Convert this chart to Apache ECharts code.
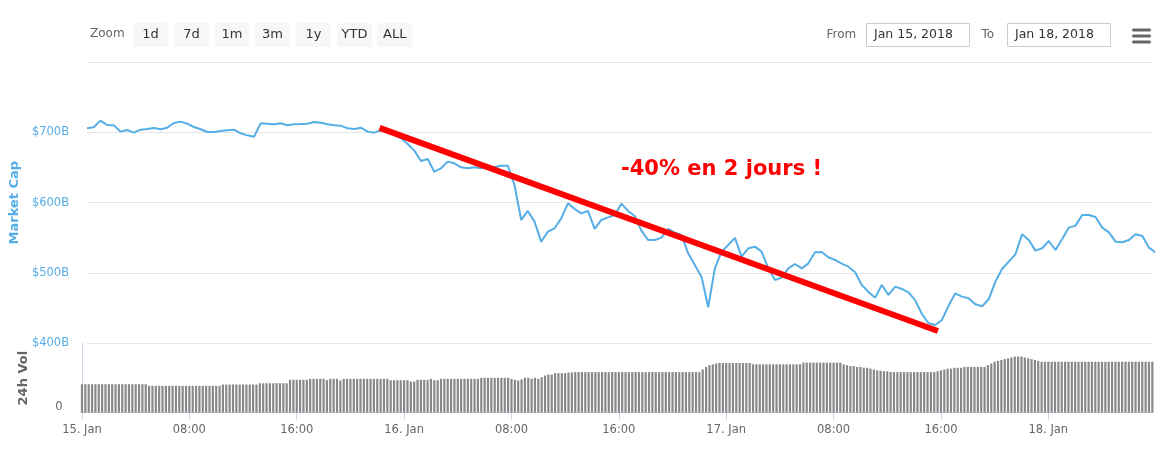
<!DOCTYPE html>
<html>
<head>
<meta charset="utf-8">
<script src="https://cdn.jsdelivr.net/npm/echarts@6/dist/echarts.min.js"></script>
<style>
html,body{margin:0;padding:0;background:#fff;}
#c{width:1175px;height:456px;}
</style>
</head>
<body>
<div id="c"></div>
<script>
// ---- data ----
// Market cap ($B), one value every 30 minutes from 15 Jan 2018 00:00
const mcapStepHours = 0.5;
const mcapValues = [
705.7,707.1,716.6,710.4,710,701,703.3,699.5,703.8,704.7,
706.2,704.3,706.6,713.3,715.2,712.3,707.6,704.3,700.5,700.5,
701.9,702.8,703.8,698.6,695.7,693.8,712.8,712.3,711.4,712.8,
710,711.4,711.8,712.3,714.7,713.7,711.4,710,709.5,705.7,
704.7,706.6,701,699.5,702.8,700,697,691.5,683.4,674,
659.2,662,644,648.8,658.3,655.9,650.2,648.8,650.2,648.8,
650.7,650.7,652.6,652.6,625.1,575.4,588.2,573,544.5,558.8,
563.5,577.7,599.1,591,584.8,588.2,562.6,575.4,579.1,582.5,
598.6,588.2,581.1,560.2,546.9,546.9,550.2,562.6,557.3,554,
528,511.4,494.8,451.2,506.6,530.3,539.8,550,523.2,535.1,
537.4,530.3,506.6,490,493.4,506.6,512.8,506.6,513.7,529.4,
529.9,522.3,518.5,513.3,509,501,483,473,464.9,483,
468.7,480.6,477.3,472.5,461.1,441.7,428.4,426.1,433.2,453.6,
471.1,466.4,464,455.5,452.6,462.6,487.7,505.7,516.1,526.5,
555,546.9,531.8,535.1,545.5,532.7,548.3,564.5,567.3,582.5,
582.5,579.6,564.5,557.8,544.5,543.6,546.9,555,552.6,536,
529
];
// 24h volume ($B), one bar every 15 minutes from 15 Jan 2018 00:00
const volStepHours = 0.25;
const volValues = [
33,33,33,33,33,33,33,33,33,33,33,33,33,33,33,33,33,33,33,33,
31.1,31.1,31.1,31.1,31.1,31.1,31.1,31.1,31.1,31.1,31.1,31.1,31.1,31.1,31.1,31.1,31.1,31.1,31.1,31.1,
31.1,31.1,32.6,32.6,32.6,32.6,32.6,32.6,32.6,32.6,32.6,32.6,32.6,34.1,34.1,34.1,34.1,34.1,34.1,34.1,
34.1,34.1,38.1,38.1,38.1,38.1,38.1,38.1,39.2,39.2,39.2,39.2,39.2,37.6,39.2,39.2,39.2,37.3,39.2,39.2,
39.2,39.2,39.2,39.2,39.2,39.2,39.2,39.2,39.2,39.2,39.2,39.2,37.6,37.6,37.6,37.6,37.6,37.6,36.1,36.1,
38.1,38.1,38.1,38.1,39.2,37.6,37.6,39.2,39.2,39.2,39.2,39.2,39.2,39.2,39.2,39.2,39.2,39.2,39.2,40.4,
40.4,40.4,40.4,40.4,40.4,40.4,40.4,40.4,39.2,38.1,37.3,38.5,40.4,40.4,39.2,40.4,39.2,41.1,43.1,44.2,
44.2,45.8,45.8,45.8,45.8,46.5,46.5,47,47,47,47,47,47,47,47,47,47,47,47,47,
47,47,47,47,47,47,47,47,47,47,47,47,47,47,47,47,47,47,47,47,
47,47,47,47,47,50,53,55,56,57,57.5,57.5,57.5,57.5,57.5,57.5,57.5,57.5,57.5,57.5,
56,56,56,56,56,56,56,56,56,56,56,56,56,56,56,58,58,58,58,58,
58,58,58,58,58,58,58,56,55,54,54,53,53,52,52,51,50,49,48.5,48,
48,47,47,47,47,47,47,47,47,47,47,47,47,47,47,48,49,50,51,51,
52,52,52,53,53,53,53,53,53,53,55,57,59,60,61,62,63,64,65,65,
65,64,63,62,61,60,59,59,59,59,59,59,59,59,59,59,59,59,59,59,
59,59,59,59,59,59,59,59,59,59,59,59,59,59,59,59,59,59,59,59
];
// x ticks (hours since 15 Jan 00:00) and their labels
const xTickHours = [0,8,16,24,32,40,48,56,64,72];
const xTickLabels = ['15. Jan','08:00','16:00','16. Jan','08:00','16:00','17. Jan','08:00','16:00','18. Jan'];
const xMaxHours = 79.8;
// market cap axis ticks
const capTicks = [400,500,600,700];
const capTickLabels = ['$400B','$500B','$600B','$700B'];
// annotation trend line endpoints [hours, $B]
const trendHours = [21.9, 63.7];
const trendValues = [706.3, 417.5];
const annotationText = '-40% en 2 jours !';
const zoomButtons = ['1d','7d','1m','3m','1y','YTD','ALL'];
const fromDate = 'Jan 15, 2018';
const toDate = 'Jan 18, 2018';

// ---- chart ----
const FONT = '"DejaVu Sans", sans-serif';
const BLUE = '#55aee6';
const chart = echarts.init(document.getElementById('c'), null, {renderer: 'canvas'});

const lineData = mcapValues.map((v, k) => [k * mcapStepHours, v]);
const volData = volValues.map((v, i) => [i * volStepHours, v]);
const trendData = trendHours.map((h, i) => [h, trendValues[i]]);

const graphics = [];
graphics.push({type: 'text', left: 90, top: 28, style: {text: 'Zoom', fill: '#666', font: '12px ' + FONT}});
const btnX = [133, 174, 214.5, 255, 296, 337, 377];
const btnW = [35, 35, 35, 35, 35, 35, 35.5];
zoomButtons.forEach((b, i) => {
  graphics.push({type: 'rect', shape: {x: btnX[i], y: 23, width: btnW[i], height: 24, r: 2}, style: {fill: '#f7f7f7'}});
  graphics.push({type: 'text', x: btnX[i] + btnW[i] / 2, y: 35, style: {text: b, fill: '#333', font: '13px ' + FONT, align: 'center', verticalAlign: 'middle'}});
});
graphics.push({type: 'text', x: 826.5, y: 34.5, style: {text: 'From', fill: '#666', font: '12px ' + FONT, verticalAlign: 'middle'}});
graphics.push({type: 'rect', shape: {x: 866.5, y: 23.5, width: 103, height: 23}, style: {fill: '#fff', stroke: '#cccccc', lineWidth: 1}});
graphics.push({type: 'text', x: 874, y: 35, style: {text: fromDate, fill: '#333', font: '12.5px ' + FONT, verticalAlign: 'middle'}});
graphics.push({type: 'text', x: 981.5, y: 34.5, style: {text: 'To', fill: '#666', font: '12px ' + FONT, verticalAlign: 'middle'}});
graphics.push({type: 'rect', shape: {x: 1007.5, y: 23.5, width: 103, height: 23}, style: {fill: '#fff', stroke: '#cccccc', lineWidth: 1}});
graphics.push({type: 'text', x: 1015, y: 35, style: {text: toDate, fill: '#333', font: '12.5px ' + FONT, verticalAlign: 'middle'}});
[28.5, 34.5, 40.5].forEach(y => {
  graphics.push({type: 'rect', shape: {x: 1132, y: y, width: 19, height: 3, r: 1.5}, style: {fill: '#666'}});
});
graphics.push({type: 'text', x: 621, y: 169.5, z: 100, style: {text: annotationText, fill: '#ff0000', font: 'bold 21px "DejaVu Sans", sans-serif', verticalAlign: 'middle'}});

chart.setOption({
  animation: false,
  backgroundColor: '#fff',
  grid: [
    {left: 82, right: 22, top: 62, height: 281.3},
    {left: 82, right: 22, top: 343.6, height: 69.1}
  ],
  xAxis: [
    {type: 'value', gridIndex: 0, min: 0, max: xMaxHours, show: false, splitLine: {show: false}},
    {type: 'value', gridIndex: 1, min: 0, max: xMaxHours,
      axisLine: {show: true, lineStyle: {color: '#ccd6eb', width: 1}},
      axisTick: {show: true, length: 7, customValues: xTickHours, lineStyle: {color: '#ccd6eb'}},
      axisLabel: {customValues: xTickHours, color: '#666', fontFamily: FONT, fontSize: 11.5, margin: 11,
        formatter: v => xTickLabels[xTickHours.indexOf(v)]},
      splitLine: {show: false}}
  ],
  yAxis: [
    {type: 'value', gridIndex: 0, min: 400, max: 800,
      axisLine: {show: false}, axisTick: {show: false},
      axisLabel: {customValues: capTicks, color: BLUE, fontFamily: FONT, fontSize: 11.5, margin: 18,
        formatter: v => capTickLabels[capTicks.indexOf(v)]},
      splitLine: {show: true, lineStyle: {color: '#e6e6e6', width: 1}},
      name: 'Market Cap', nameLocation: 'middle', nameGap: 63, nameRotate: 90,
      nameTextStyle: {color: BLUE, fontFamily: FONT, fontSize: 13, fontWeight: 'bold'}},
    {type: 'value', gridIndex: 1, min: 0, max: 80, offset: 4.5,
      axisLine: {show: true, lineStyle: {color: '#ccd6eb'}}, axisTick: {show: false},
      axisLabel: {customValues: [0], color: '#666', fontFamily: FONT, fontSize: 11.5, margin: 15, verticalAlign: 'bottom'},
      splitLine: {show: false},
      name: '24h Vol', nameLocation: 'middle', nameGap: 47, nameRotate: 90,
      nameTextStyle: {color: '#666', fontFamily: FONT, fontSize: 13, fontWeight: 'bold'}}
  ],
  series: [
    {type: 'line', xAxisIndex: 0, yAxisIndex: 0, data: lineData, showSymbol: false,
      lineStyle: {color: BLUE, width: 2}, z: 3},
    {type: 'bar', xAxisIndex: 1, yAxisIndex: 1, data: volData, barWidth: 2.2,
      itemStyle: {color: '#888'}, z: 2},
    {type: 'line', xAxisIndex: 0, yAxisIndex: 0, data: trendData, showSymbol: false,
      lineStyle: {color: '#ff0000', width: 6}, z: 5}
  ],
  graphic: graphics
});
</script>
</body>
</html>
